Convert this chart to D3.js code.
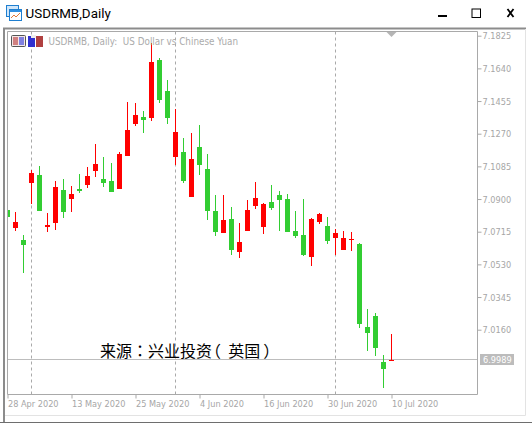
<!DOCTYPE html>
<html><head><meta charset="utf-8">
<script src="https://cdnjs.cloudflare.com/ajax/libs/d3/7.8.5/d3.min.js"></script>
<style>html,body{margin:0;padding:0;background:#fff;overflow:hidden}svg{display:block}</style>
</head><body><svg id="c" width="532" height="423"></svg>
<script>
const open_ = [7.0838,7.0737,7.0669,7.0991,7.1036,7.0742,7.0765,7.0952,7.0901,7.0957,7.0980,7.1059,7.1014,7.1003,7.0957,7.1144,7.1325,7.1365,7.1359,7.1687,7.1512,7.1138,7.1167,7.0912,7.1195,7.1070,7.0833,7.0708,7.0787,7.0601,7.0720,7.0861,7.0742,7.0884,7.0923,7.0901,7.0720,7.0697,7.0572,7.0770,7.0748,7.0680,7.0612,7.0669,7.0646,7.0176,7.0238,6.9978,6.9984];
const high = [7.0838,7.0827,7.0697,7.1065,7.1087,7.0821,7.1003,7.1014,7.0974,7.1042,7.1082,7.1212,7.1138,7.1104,7.1167,7.1450,7.1444,7.1399,7.1784,7.1699,7.1574,7.1410,7.1246,7.1274,7.1319,7.1155,7.0923,7.0923,7.0855,7.0765,7.0895,7.0997,7.0878,7.0980,7.0946,7.0929,7.0833,7.0901,7.0793,7.0821,7.0799,7.0731,7.0720,7.0714,7.0652,7.0278,7.0255,7.0018,7.0137];
const low = [7.0799,7.0720,7.0482,7.0872,7.0833,7.0714,7.0725,7.0793,7.0827,7.0935,7.0963,7.1025,7.0969,7.0940,7.0957,7.1144,7.1314,7.1274,7.1342,7.1444,7.1325,7.1093,7.0991,7.0912,7.1036,7.0782,7.0691,7.0708,7.0584,7.0567,7.0720,7.0844,7.0703,7.0838,7.0720,7.0714,7.0680,7.0578,7.0521,7.0759,7.0646,7.0584,7.0612,7.0606,7.0171,7.0040,7.0012,6.9831,6.9984];
const close_ = [7.0799,7.0770,7.0640,7.1048,7.0833,7.0753,7.0969,7.0827,7.0929,7.0946,7.1031,7.1099,7.0991,7.0940,7.1155,7.1291,7.1376,7.1348,7.1676,7.1461,7.1359,7.1280,7.1003,7.1127,7.1093,7.0833,7.0714,7.0782,7.0612,7.0657,7.0838,7.0906,7.0872,7.0850,7.0895,7.0714,7.0691,7.0584,7.0787,7.0816,7.0663,7.0708,7.0680,7.0674,7.0193,7.0142,7.0057,6.9938,6.9989];
const priceTicks = [7.1825,7.1640,7.1455,7.1270,7.1085,7.0900,7.0715,7.0530,7.0345,7.0160];
const dateTickIndex = [0,8,16,24,32,40,48];
const dateTickLabels = ["28 Apr 2020","13 May 2020","25 May 2020","4 Jun 2020","16 Jun 2020","30 Jun 2020","10 Jul 2020"];
const separatorIndex = [3,21,41];
const lastPrice = 6.9989;
const windowTitle = "USDRMB,Daily";
const chartHeader = "USDRMB, Daily:  US Dollar vs Chinese Yuan";
const annotation = "来源：兴业投资（英国）";

const svg = d3.select("#c");
const L=7.5,R=477.5,T=31.5,B=394.5;
const x = d3.scaleLinear().domain([0,48]).range([7.5,391.5]);
const y = d3.scaleLinear().domain([7.016,7.1825]).range([329.7,35.7]);
const UP="#ff0000",DN="#32cd32",GR="#a9a9a9",TXT="#a6a6a6";
const UI="'DejaVu Sans Condensed','DejaVu Sans',sans-serif";

// window chrome
svg.append("rect").attr("x",3).attr("y",27).attr("width",523).attr("height",389).attr("fill","#fff");
svg.append("path").attr("d","M4 422V28.5H526").attr("fill","none").attr("stroke","#8c8c8c").attr("stroke-width",2);
svg.append("path").attr("d","M525.5 29V415.5H5").attr("fill","none").attr("stroke","#e3e3e3");
svg.append("line").attr("x1",0).attr("x2",532).attr("y1",422.5).attr("y2",422.5).attr("stroke","#6e6e6e");
// title icon
const ic=svg.append("g");
ic.append("rect").attr("x",6.5).attr("y",5.5).attr("width",12).attr("height",11).attr("fill","#cfe6fa").attr("stroke","#1f7fd0");
ic.append("rect").attr("x",9.5).attr("y",9.5).attr("width",12).attr("height",11).attr("fill","#fff").attr("stroke","#1f7fd0");
ic.append("rect").attr("x",10).attr("y",10).attr("width",11).attr("height",2).attr("fill","#2f8fe0");
ic.append("path").attr("d","M11 18L14 15L16 17L20 13").attr("fill","none").attr("stroke","#e07a3a");
svg.append("text").text(windowTitle).attr("x",25.5).attr("y",17.5).attr("font-family","Roboto,sans-serif").attr("font-size",13.4).attr("fill","#000");
// window buttons
svg.append("rect").attr("x",438).attr("y",15).attr("width",9).attr("height",2).attr("fill","#000");
svg.append("rect").attr("x",472).attr("y",9).attr("width",8.5).attr("height",8.5).attr("fill","none").attr("stroke","#000");
svg.append("path").attr("d","M507.5 9L513.5 17M513.5 9L507.5 17").attr("stroke","#000").attr("stroke-width",1.8);

// plot frame
svg.append("path").attr("d",`M${L} ${B}V${T}H${R}V${B}Z`).attr("fill","#fff").attr("stroke",GR);
svg.append("clipPath").attr("id","pc").append("rect").attr("x",8).attr("y",32).attr("width",469).attr("height",362);
const plot=svg.append("g").attr("clip-path","url(#pc)");

// period separators
plot.selectAll("line.sep").data(separatorIndex).join("line").attr("class","sep")
 .attr("x1",d=>x(d)).attr("x2",d=>x(d)).attr("y1",T).attr("y2",B)
 .attr("stroke",GR).attr("stroke-dasharray","3,3");
// last price line
plot.append("line").attr("x1",L).attr("x2",R).attr("y1",Math.round(y(lastPrice))-0.5).attr("y2",Math.round(y(lastPrice))-0.5).attr("stroke","#bdbdbd");

// candles
const idx=d3.range(open_.length);
const col=i=>close_[i]>=open_[i]?UP:DN;
plot.selectAll("line.w").data(idx).join("line").attr("class","w")
 .attr("x1",x).attr("x2",x)
 .attr("y1",i=>Math.round(y(high[i]))).attr("y2",i=>Math.round(y(low[i])))
 .attr("stroke",col);
plot.selectAll("rect.b").data(idx).join("rect").attr("class","b")
 .attr("x",i=>x(i)-2.5).attr("width",5)
 .attr("y",i=>Math.round(y(Math.max(open_[i],close_[i]))))
 .attr("height",i=>Math.max(1,Math.round(y(Math.min(open_[i],close_[i])))-Math.round(y(Math.max(open_[i],close_[i])))))
 .attr("fill",col).attr("shape-rendering","crispEdges");

// chart header
const hi=svg.append("g");
hi.append("rect").attr("x",11.5).attr("y",35.5).attr("width",14).attr("height",11).attr("rx",1).attr("fill","#f3e6e6").attr("stroke","#555");
hi.append("rect").attr("x",13).attr("y",37).attr("width",5).attr("height",8).attr("fill","#d08080");
hi.append("rect").attr("x",19).attr("y",37).attr("width",5).attr("height",8).attr("fill","#8080e0");
hi.append("rect").attr("x",28).attr("y",36).attr("width",7).attr("height",11).attr("fill","#3030d0");
hi.append("rect").attr("x",36).attr("y",36).attr("width",7).attr("height",11).attr("fill","#b04040");
hi.append("rect").attr("x",31).attr("y",35).attr("width",5).attr("height",3).attr("fill","#eee");
svg.append("text").text(chartHeader).attr("xml:space","preserve").style("white-space","pre").attr("x",48.5).attr("y",45)
 .attr("font-family",UI).attr("font-size",9.8).attr("fill","#ababab");

// last bar marker
svg.append("path").attr("d",d3.line()([[x(48)-5,32],[x(48)+5,32],[x(48),37]])+"Z").attr("fill","#b5b5b5");

// axes
const ay=svg.append("g").attr("transform",`translate(${R},0)`).call(d3.axisRight(y).tickValues(priceTicks).tickSize(4).tickSizeOuter(0).tickFormat(d3.format(".4f")));
ay.select(".domain").remove();
ay.selectAll("line").attr("stroke",GR);
ay.selectAll("text").attr("x",5).attr("font-family",UI).attr("font-size",9.1).attr("fill",TXT).attr("dy","0.35em");

const ax=svg.append("g").attr("transform",`translate(0,${B})`).call(d3.axisBottom(x).tickValues(dateTickIndex).tickSize(4).tickSizeOuter(0).tickFormat((d,i)=>dateTickLabels[i]));
ax.select(".domain").remove();
ax.selectAll("line").attr("stroke",GR);
ax.selectAll("text").attr("x",0).attr("y",6).attr("text-anchor","start").attr("font-family",UI).attr("font-size",9.1).attr("fill",TXT);

// last price tag
svg.append("rect").attr("x",480).attr("y",354).attr("width",34).attr("height",11).attr("fill","#bcbcbc");
svg.append("text").text(d3.format(".4f")(lastPrice)).attr("x",483).attr("y",363).attr("font-family",UI).attr("font-size",9.1).attr("fill","#fff");

// annotation
svg.append("text").text(annotation).attr("lang","zh-TW").attr("dx","0 0 0 0 0 0 0 -7 7 0 3").attr("x",100).attr("y",357).attr("font-family","'Noto Sans CJK TC',sans-serif").attr("font-size",16).attr("fill","#000");
</script></body></html>
